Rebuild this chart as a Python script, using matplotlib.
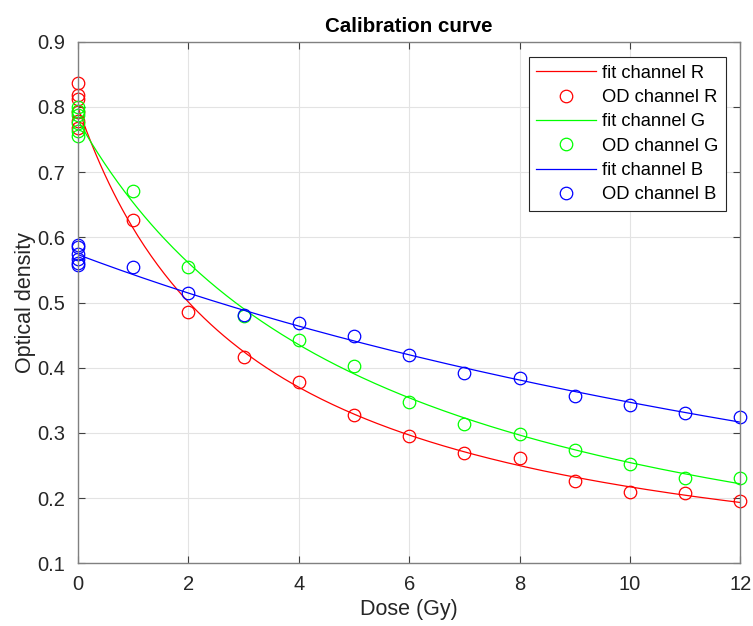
import numpy as np
import matplotlib
matplotlib.use('Agg')
from matplotlib import pyplot as plt

plt.rcParams['font.family'] = ['Liberation Sans', 'DejaVu Sans']

# measured optical density per dose (Gy), six films at 0 Gy
dose = [0, 0, 0, 0, 0, 0, 1, 2, 3, 4, 5, 6, 7, 8, 9, 10, 11, 12]
od_r = [0.836, 0.818, 0.812, 0.792, 0.778, 0.768,
        0.627, 0.485, 0.416, 0.378, 0.328, 0.295, 0.270, 0.261, 0.227, 0.210, 0.208, 0.195]
od_g = [0.800, 0.793, 0.788, 0.775, 0.763, 0.755,
        0.671, 0.555, 0.479, 0.442, 0.403, 0.348, 0.314, 0.298, 0.274, 0.253, 0.231, 0.231]
od_b = [0.589, 0.585, 0.575, 0.567, 0.560, 0.558,
        0.554, 0.515, 0.481, 0.469, 0.448, 0.419, 0.392, 0.384, 0.356, 0.343, 0.331, 0.325]

channels = ['R', 'G', 'B']
colors = ['#ff0000', '#00ff00', '#0000ff']


def fit_rational(d, od):
    # od = (a + b*d) / (1 + c*d)  ->  od = a + b*d - c*d*od (linear least squares)
    d = np.asarray(d, float)
    od = np.asarray(od, float)
    A = np.column_stack([np.ones_like(d), d, -d * od])
    a, b, c = np.linalg.lstsq(A, od, rcond=None)[0]
    return lambda x: (a + b * x) / (1 + c * x)


fig = plt.figure(figsize=(7.53, 6.26), dpi=100)
ax = fig.add_axes([0.1036, 0.1, 0.8795, 0.8334])

xx = np.linspace(0, 12, 300)
for ch, col, od in zip(channels, colors, [od_r, od_g, od_b]):
    f = fit_rational(dose, od)
    ax.plot(xx, f(xx), color=col, lw=0.9, label='fit channel ' + ch)
    ax.plot(dose, od, 'o', mfc='none', mec=col, ms=9, mew=0.9, clip_on=False,
            label='OD channel ' + ch)

ax.set_xlim(0, 12)
ax.set_ylim(0.1, 0.9)
ax.set_xticks(range(0, 13, 2))
ax.set_yticks(np.arange(0.1, 0.91, 0.1))
ax.set_yticklabels(['%.1f' % v for v in np.arange(0.1, 0.91, 0.1)])
ax.grid(True, color='#e3e3e3', lw=0.8)
ax.set_axisbelow(True)
for s in ax.spines.values():
    s.set_color('#808080')
    s.set_linewidth(1.0)
ax.tick_params(direction='in', top=True, right=True, colors='#404040',
               labelcolor='#262626', labelsize=14.5, length=5, width=0.8)
ax.tick_params(axis='y', pad=9)
ax.tick_params(axis='x', pad=8)
ax.set_xlabel('Dose (Gy)', fontsize=15.5, color='#262626', labelpad=4)
ax.set_ylabel('Optical density', fontsize=15.5, color='#262626', labelpad=1)
ax.set_title('Calibration curve', fontsize=14.8, fontweight='bold', pad=7)

leg = ax.legend(loc='upper right', bbox_to_anchor=(0.978, 0.97), fontsize=13.2,
                fancybox=False, framealpha=1, edgecolor='#262626',
                handlelength=3.3, handletextpad=0.3, labelspacing=0.4,
                borderpad=0.4, borderaxespad=0)
leg.get_frame().set_linewidth(0.8)

fig.savefig('out.png', dpi=100)
